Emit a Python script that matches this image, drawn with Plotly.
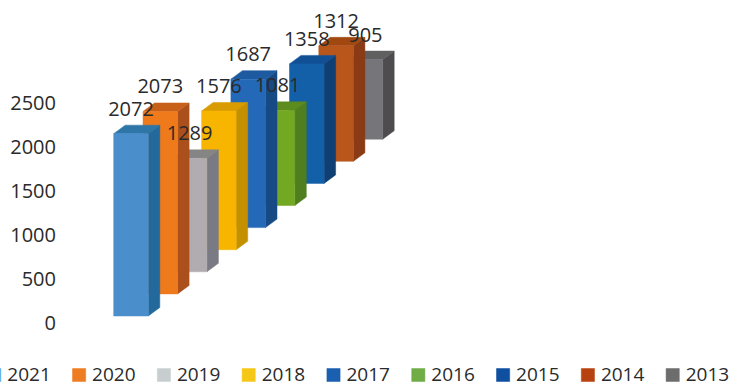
import plotly.graph_objects as go

# Figure size and axis scales
W, H = 735, 387
PX_PER_VALUE = 0.088      # vertical pixels for one unit of value
ZERO_PX = 323             # pixel row of value 0
SLOT_PX = 29.3            # horizontal pixels per series slot
FIRST_CENTER_PX = 131     # pixel column of the first bar's centre

years = ["2021", "2020", "2019", "2018", "2017", "2016", "2015", "2014", "2013"]
values = [2072, 2073, 1289, 1576, 1687, 1081, 1358, 1312, 905]
front_colors = ["#4a8fcc", "#ee7a1c", "#b0acb0", "#f7b500", "#2468b8",
                "#72a822", "#1460a8", "#b8561c", "#75757a"]
side_colors = ["#23699b", "#ab501c", "#7a7a85", "#c49000", "#174a85",
               "#4f7e1e", "#0f3f73", "#8a3a14", "#4f4c50"]
top_colors = ["#2f76a8", "#c8601a", "#858585", "#d89c00", "#1d5a9f",
              "#5c8c1e", "#125095", "#a04810", "#606060"]
legend_colors = ["#5bb0e8", "#ee7d22", "#c8ced0", "#f5c818", "#1a5fb0",
                 "#70ad47", "#0f4f9f", "#b8420f", "#6d6d6d"]
y_ticks = [0, 500, 1000, 1500, 2000, 2500]

# Oblique projection: each series sits further back along the depth axis
FLOOR = 7 / PX_PER_VALUE          # lift of the first bar's base above zero
STEP_BACK = 22.1 / PX_PER_VALUE   # extra lift per series
HALF_W = 17.3 / SLOT_PX           # half the front face width
DEPTH_X = 11.5 / SLOT_PX          # horizontal extent of the side face
DEPTH_Y = 8.5 / PX_PER_VALUE      # vertical extent of the top face
LABEL_GAP = 23 / PX_PER_VALUE     # value label height above the front face

x_range = [-FIRST_CENTER_PX / SLOT_PX, (W - FIRST_CENTER_PX) / SLOT_PX]
y_range = [(ZERO_PX - H) / PX_PER_VALUE, ZERO_PX / PX_PER_VALUE]

FONT = "Open Sans"
INK = "#2a2a2a"


def face(xs, ys, color, name):
    return go.Scatter(x=xs, y=ys, fill="toself", fillcolor=color, mode="lines",
                      line=dict(width=0.5, color=color), name=name,
                      hoverinfo="name", showlegend=False)


fig = go.Figure()

# Bars are painted back to front so nearer series overlap further ones
for i in reversed(range(len(values))):
    base = FLOOR + i * STEP_BACK
    top = base + values[i]
    left, right = i - HALF_W, i + HALF_W
    fig.add_trace(face([right, right + DEPTH_X, right + DEPTH_X, right, right],
                       [base, base + DEPTH_Y, top + DEPTH_Y, top, base],
                       side_colors[i], years[i]))
    fig.add_trace(face([left, left + DEPTH_X, right + DEPTH_X, right, left],
                       [top, top + DEPTH_Y, top + DEPTH_Y, top, top],
                       top_colors[i], years[i]))
    fig.add_trace(face([left, right, right, left, left],
                       [base, base, top, top, base],
                       front_colors[i], years[i]))

# Value labels go above every bar
fig.add_trace(go.Scatter(
    x=list(range(len(values))),
    y=[FLOOR + i * STEP_BACK + v + LABEL_GAP for i, v in enumerate(values)],
    mode="text", text=[str(v) for v in values], textposition="middle center",
    textfont=dict(family=FONT, size=20, color=INK),
    hoverinfo="skip", showlegend=False, cliponaxis=False))

# Legend row along the bottom edge; the first swatch runs off the left side
LEGEND_Y = (ZERO_PX - 375) / PX_PER_VALUE
LEGEND_TEXT_Y = (ZERO_PX - 376.5) / PX_PER_VALUE
LEGEND_STEP = 84.8 / SLOT_PX
SWATCH_HALF_X = 6.6 / SLOT_PX
SWATCH_HALF_Y = 6.5 / PX_PER_VALUE
swatch_x = [(-5.7 - FIRST_CENTER_PX) / SLOT_PX + k * LEGEND_STEP for k in range(len(years))]
label_x = [x + 13 / SLOT_PX for x in swatch_x]
for k, x in enumerate(swatch_x):
    fig.add_trace(face([x - SWATCH_HALF_X, x + SWATCH_HALF_X, x + SWATCH_HALF_X,
                        x - SWATCH_HALF_X, x - SWATCH_HALF_X],
                       [LEGEND_Y - SWATCH_HALF_Y, LEGEND_Y - SWATCH_HALF_Y,
                        LEGEND_Y + SWATCH_HALF_Y, LEGEND_Y + SWATCH_HALF_Y,
                        LEGEND_Y - SWATCH_HALF_Y],
                       legend_colors[k], years[k]))
fig.add_trace(go.Scatter(
    x=label_x, y=[LEGEND_TEXT_Y] * len(years), mode="text", text=years,
    textposition="middle right", textfont=dict(family=FONT, size=19, color=INK),
    hoverinfo="skip", showlegend=False, cliponaxis=False))

fig.update_layout(
    width=W, height=H, autosize=False,
    margin=dict(l=0, r=0, t=0, b=0),
    paper_bgcolor="white", plot_bgcolor="white",
    showlegend=False,
    xaxis=dict(range=x_range, visible=False, fixedrange=True),
    yaxis=dict(range=y_range, anchor="free", position=56 / W, side="left",
               tickmode="array", tickvals=y_ticks, ticks="", showgrid=False,
               zeroline=False, showline=False, fixedrange=True,
               tickfont=dict(family=FONT, size=20, color=INK)),
)

fig.write_html("out.html", config={"displayModeBar": False})
